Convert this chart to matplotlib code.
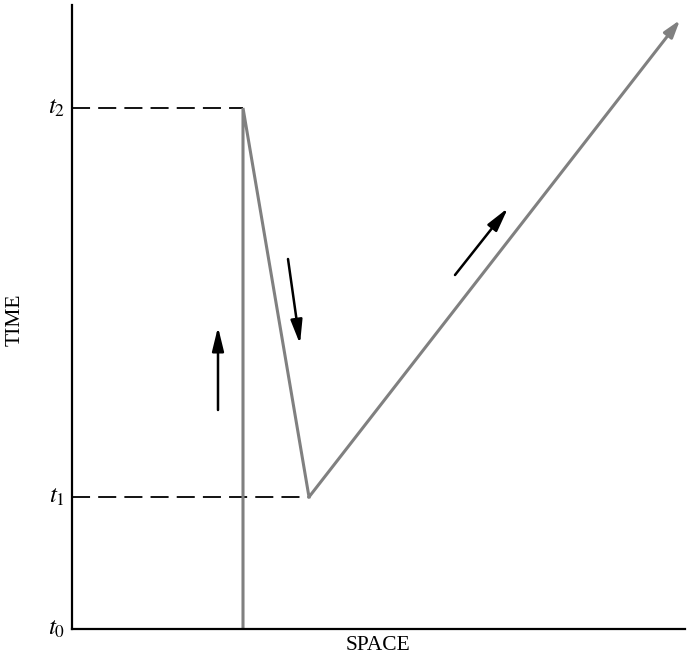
import matplotlib.pyplot as plt

plt.rcParams['font.family'] = ['Liberation Serif', 'DejaVu Serif']
plt.rcParams['mathtext.fontset'] = 'stix'

# Path of the particle (space, time) in axis units
path_x = [171, 171, 237, 608]
path_y = [0, 521, 132, 609]

# Time levels
t_labels = ['$t_0$', '$t_1$', '$t_2$']
t_values = [0, 132, 521]
t_dash_end = [0, 237, 171]   # where each dashed guide ends in space

# Direction arrows (tail -> head)
arrows = [
    ((146, 219), (146, 302)),
    ((216, 370), (228, 285)),
    ((383, 354), (436, 421)),
]

fig = plt.figure(figsize=(6.87, 6.57), dpi=100)
ax = fig.add_axes([72 / 687, 28 / 657, 613 / 687, 624 / 657])
ax.set_xlim(0, 613)
ax.set_ylim(0, 624)

for s in ['top', 'right']:
    ax.spines[s].set_visible(False)
for s in ['left', 'bottom']:
    ax.spines[s].set_linewidth(1.6)
    ax.spines[s].set_color('black')

ax.set_xticks([])
ax.set_yticks([])

# dashed guides
for tv, xe in zip(t_values[1:], t_dash_end[1:]):
    ax.plot([0, xe], [tv, tv], color='black', lw=1.3, ls=(0, (10, 4.5)))

# main world line
ax.plot(path_x[:-1], path_y[:-1], color='#808080', lw=2.2, solid_joinstyle='miter')
ax.annotate('', xy=(path_x[-1], path_y[-1]), xytext=(path_x[-2], path_y[-2]),
            arrowprops=dict(arrowstyle='-|>,head_length=0.8,head_width=0.25',
                            color='#808080', lw=2.2,
                            mutation_scale=13, shrinkA=0, shrinkB=0))

for tail, head in arrows:
    ax.annotate('', xy=head, xytext=tail,
                arrowprops=dict(arrowstyle='-|>,head_length=0.9,head_width=0.22',
                                color='black', lw=1.8,
                                mutation_scale=16, shrinkA=0, shrinkB=0))

for lab, tv in zip(t_labels, t_values):
    ax.text(-15, tv, lab, fontsize=18, ha='center', va='center')

ax.text(-57, 309, 'TIME', fontsize=15.5, rotation=90, ha='center', va='center')
ax.text(306, -16, 'SPACE', fontsize=15.5, ha='center', va='center')

fig.savefig('out.png', dpi=100)
